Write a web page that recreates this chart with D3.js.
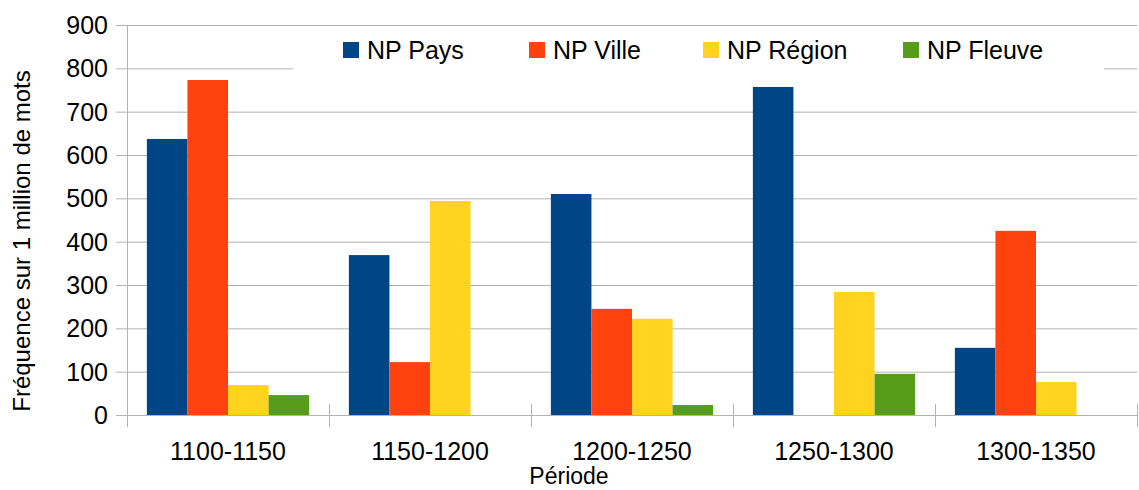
<!DOCTYPE html>
<html>
<head>
<meta charset="utf-8">
<script src="https://cdn.jsdelivr.net/npm/d3@7"></script>
<style>
  html, body { margin: 0; padding: 0; background: #fff; }
  svg { display: block; font-family: "Liberation Sans", Arial, sans-serif; }
</style>
</head>
<body>
<div id="chart"></div>
<script>
// data
const periods = ['1100-1150', '1150-1200', '1200-1250', '1250-1300', '1300-1350'];
const seriesNames = ['NP Pays', 'NP Ville', 'NP Région', 'NP Fleuve'];
const npPays = [637, 369, 510, 757, 155];
const npVille = [773, 122, 245, 0, 425];
const npRegion = [69, 494, 222, 284, 76];
const npFleuve = [46, 0, 23, 95, 0];
const yTicks = [0, 100, 200, 300, 400, 500, 600, 700, 800, 900];
const colors = ['#004586', '#ff420e', '#ffd320', '#579d1c'];

const allSeries = [npPays, npVille, npRegion, npFleuve];

const width = 1139;
const height = 490;
const plotLeft = 127, plotRight = 1137, plotTop = 25, plotBottom = 415;

const svg = d3.select('#chart')
  .append('svg')
  .attr('width', width)
  .attr('height', height);

const xScale = d3.scaleBand()
  .domain(periods)
  .range([plotLeft, plotRight]);

const xInner = d3.scaleBand()
  .domain(seriesNames)
  .range([0, xScale.bandwidth()])
  .paddingOuter(0.49);

const yScale = d3.scaleLinear()
  .domain([0, 900])
  .range([plotBottom, plotTop]);

// gridlines
svg.append('g')
  .selectAll('line')
  .data(yTicks)
  .enter()
  .append('line')
  .attr('x1', plotLeft - 11)
  .attr('x2', plotRight)
  .attr('y1', d => yScale(d) + 0.5)
  .attr('y2', d => yScale(d) + 0.5)
  .attr('stroke', '#b3b3b3')
  .attr('stroke-width', 1);

// y axis line
svg.append('line')
  .attr('x1', plotLeft + 0.5).attr('x2', plotLeft + 0.5)
  .attr('y1', plotTop).attr('y2', plotBottom + 12)
  .attr('stroke', '#b3b3b3');

// category ticks
svg.append('g')
  .selectAll('line')
  .data(periods)
  .enter()
  .append('line')
  .attr('x1', d => Math.round(xScale(d) + xScale.step()) + 0.5)
  .attr('x2', d => Math.round(xScale(d) + xScale.step()) + 0.5)
  .attr('y1', plotBottom - 11)
  .attr('y2', plotBottom + 12)
  .attr('stroke', '#b3b3b3');

// bars
const rows = [];
periods.forEach((p, i) => {
  seriesNames.forEach((s, j) => rows.push({ period: p, series: s, value: allSeries[j][i], color: colors[j] }));
});

svg.append('g')
  .selectAll('rect')
  .data(rows.filter(d => d.value > 0))
  .enter()
  .append('rect')
  .attr('x', d => xScale(d.period) + xInner(d.series))
  .attr('y', d => yScale(d.value))
  .attr('width', xInner.bandwidth())
  .attr('height', d => plotBottom - yScale(d.value))
  .attr('fill', d => d.color);

// y tick labels
svg.append('g')
  .selectAll('text')
  .data(yTicks)
  .enter()
  .append('text')
  .attr('x', 108)
  .attr('y', d => yScale(d))
  .attr('dy', '0.36em')
  .attr('text-anchor', 'end')
  .attr('font-size', 25)
  .attr('fill', '#000')
  .text(d => d);

// x tick labels
svg.append('g')
  .selectAll('text')
  .data(periods)
  .enter()
  .append('text')
  .attr('x', d => xScale(d) + xScale.bandwidth() / 2)
  .attr('y', 460)
  .attr('text-anchor', 'middle')
  .attr('font-size', 25)
  .attr('fill', '#000')
  .text(d => d);

// axis titles
svg.append('text')
  .attr('x', 569)
  .attr('y', 484)
  .attr('text-anchor', 'middle')
  .attr('font-size', 23)
  .text('Période');

svg.append('text')
  .attr('transform', 'translate(30, 241) rotate(-90)')
  .attr('text-anchor', 'middle')
  .attr('font-size', 24)
  .text('Fréquence sur 1 million de mots');

// legend
const legendX = [343, 529, 703, 903];
const legend = svg.append('g');
legend.append('rect')
  .attr('x', 293).attr('y', 30)
  .attr('width', 811).attr('height', 48)
  .attr('fill', '#fff');

const items = legend.selectAll('.legend-item')
  .data(seriesNames)
  .enter()
  .append('g')
  .attr('class', 'legend-item')
  .attr('transform', (d, i) => `translate(${legendX[i]}, 42)`);

items.append('rect')
  .attr('width', 16).attr('height', 16)
  .attr('fill', (d, i) => colors[i]);

items.append('text')
  .attr('x', 24)
  .attr('y', 17)
  .attr('font-size', 25)
  .text(d => d);
</script>
</body>
</html>
